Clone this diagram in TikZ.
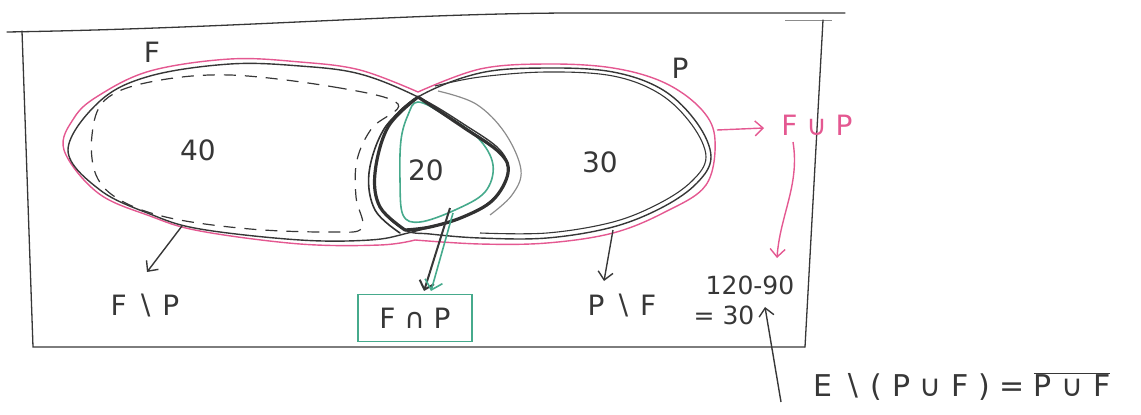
\RequirePackage{fix-cm}
\documentclass[tikz,border=0pt]{standalone}
\usepackage{fontspec}
\setmainfont{DejaVu Sans}
\usetikzlibrary{arrows.meta}
\definecolor{ink}{RGB}{55,55,55}
\definecolor{pinkc}{RGB}{228,88,145}
\definecolor{greenc}{RGB}{70,170,140}
\definecolor{grayink}{RGB}{140,140,140}
\begin{document}
\begin{tikzpicture}[x=1pt,y=-1pt,
  frame/.style={draw=ink,line width=1.3pt,line cap=round},
  outline/.style={draw=ink,line width=1.4pt,line join=round},
  pinkline/.style={draw=pinkc,line width=1.4pt,line join=round},
  lensline/.style={draw=ink!90!black,line width=3.2pt,line cap=round},
  greenline/.style={draw=greenc,line width=1.6pt,line join=round},
  dashline/.style={draw=ink,line width=1.2pt,dash pattern=on 12pt off 9pt},
  arr/.style={draw=ink,line width=1.4pt,-{Straight Barb[length=8pt,width=15pt]}},
  pinkarr/.style={draw=pinkc,line width=1.4pt,-{Straight Barb[length=8pt,width=15pt]}},
  greenarr/.style={draw=greenc,line width=1.6pt,-{Straight Barb[length=9pt,width=18pt]}},
  lbl/.style={text=ink,font=\fontsize{28}{32}\selectfont,inner sep=1pt},
  smalllbl/.style={text=ink,font=\fontsize{25}{28}\selectfont,inner sep=1pt},
  greenbox/.style={draw=greenc,line width=1.6pt,text=ink,font=\fontsize{28}{32}\selectfont,
    minimum width=114pt,minimum height=47pt,inner sep=2pt}]
\useasboundingbox (0,0) rectangle (1141,415);

% frame of the universe
\draw[frame] (7,32) .. controls (250,28) and (420,12) .. (600,13) -- (845,13);
\draw[draw=grayink,line width=0.8pt] (785,20) -- (832,20);
\draw[frame] (823,20) -- (805,347);
\draw[frame] (22,31) -- (33,347) -- (805,347);

% pink outline of the union
\draw[pinkline] plot[smooth,tension=0.6] coordinates {(418,92) (480,69) (547,64) (613,68) (665,83) (702,110) (715,140) (706,185) (665,212) (613,233) (547,243) (480,244) (415,240)};
\draw[pinkline] plot[smooth,tension=0.6] coordinates {(415,240) (380,245) (300,244) (200,231) (150,216) (98,193) (64,150) (74,118) (98,96) (150,71) (230,59) (300,62) (360,70) (418,92)};

% F outline
\draw[outline] plot[smooth cycle,tension=0.6] coordinates {(418,97) (360,74) (300,66) (230,64) (150,76) (100,101) (68,150) (100,190) (150,214) (200,229) (300,240) (370,240) (408,233) (463,217) (494,198) (508,173) (500,150) (465,125)};

% P outline (double stroke)
\draw[outline] plot[smooth cycle,tension=0.6] coordinates {(418,97) (480,73) (547,68) (613,72) (663,90) (697,123) (711,157) (697,183) (663,207) (613,227) (547,238) (480,238) (430,234) (405,230) (380,207) (375,173) (388,127)};
\draw[outline,line width=1.1pt] plot[smooth,tension=0.6] coordinates {(435,86) (480,77) (547,72) (613,76) (660,94) (692,125) (706,157) (692,181) (660,203) (613,222) (547,233) (480,233)};
\draw[draw=grayink,line width=1.2pt] plot[smooth,tension=0.6] coordinates {(438,91) (476,104) (505,133) (521,170) (512,195) (490,215)};

% dashed F \ P region
\draw[dashline] plot[smooth cycle,tension=0.6] coordinates {(398,104) (340,88) (230,75) (150,82) (105,100) (92,135) (96,175) (120,200) (170,218) (250,229) (330,232) (362,228) (356,197) (357,160) (372,128)};

% green intersection
\draw[greenline] plot[smooth cycle,tension=0.6] coordinates {(418,102) (445,115) (478,138) (493,165) (485,192) (455,210) (420,222) (403,215) (400,180) (401,140) (408,115)};

% thick lens outline
\draw[lensline] plot[smooth,tension=0.6] coordinates {(418,97) (388,127) (375,173) (380,207) (405,230)};
\draw[lensline,line width=1.6pt] plot[smooth,tension=0.6] coordinates {(414,99) (384,129) (369,173) (375,210) (400,233)};
\draw[lensline] plot[smooth,tension=0.6] coordinates {(418,97) (463,127) (500,153) (508,173) (493,200) (463,217) (430,227) (405,230)};

% labels
\node[lbl] (Flab) at (152,52) {F};
\node[lbl] (Plab) at (680,68) {P};
\node[lbl] (n40) at (198,150) {40};
\node[lbl] (n20) at (426,170) {20};
\node[lbl] (n30) at (600,162) {30};
\node[lbl] (FmP) at (145,305) {F ∖ P};
\node[greenbox] (FcP) at (415,318) {F ∩ P};
\node[lbl] (PmF) at (622,305) {P ∖ F};
\node[smalllbl] (calc1) at (750,285) {120-90};
\node[smalllbl] (calc2) at (724,315) {= 30};
\node[lbl,text=pinkc] (FuP) at (817,125) {F ∪ P};
\node[lbl,font=\fontsize{30}{34}\selectfont] (Etxt) at (962,387) {E ∖ ( P ∪ F ) = $\overline{\mbox{P ∪ F}}$};

% connectors
\coordinate (sF) at (182,226);  \coordinate (tF) at (147,272);
\draw[arr] (sF) -- (tF);
\coordinate (sL) at (450,208);  \coordinate (tL) at (424,291);
\draw[arr,line width=2pt] (sL) -- (tL);
\coordinate (sG) at (453,213);  \coordinate (tG) at (431,291);
\draw[greenarr] (sG) -- (tG);
\coordinate (sP) at (613,230);  \coordinate (tP) at (604,281);
\draw[arr] (sP) -- (tP);
\coordinate (sU) at (717,130);  \coordinate (tU) at (764,128);
\draw[pinkarr] (sU) -- (tU);
\coordinate (sU2) at (793,142); \coordinate (tU2) at (777,258);
\draw[pinkarr] (sU2) .. controls (800,185) and (780,215) .. (tU2);
\coordinate (sE) at (781,402);  \coordinate (tE) at (765,307);
\draw[arr] (sE) -- (tE);
\end{tikzpicture}
\end{document}
